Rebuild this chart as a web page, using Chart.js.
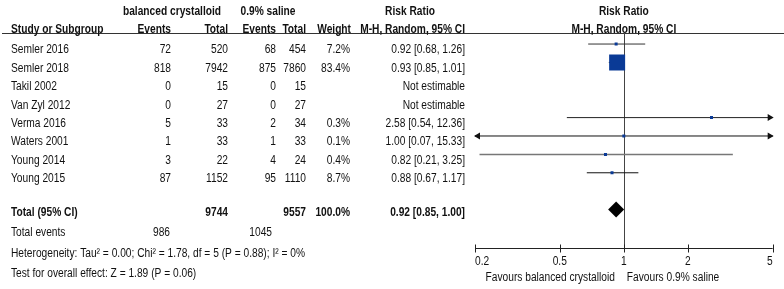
<!DOCTYPE html>
<html>
<head>
<meta charset="utf-8">
<script src="https://cdn.jsdelivr.net/npm/chart.js@4/dist/chart.umd.min.js"></script>
<style>
html, body { margin: 0; padding: 0; background: #fff; }
</style>
</head>
<body>
<canvas id="forest" width="784" height="289"></canvas>
<script>
// study rows
const studies = ['Semler 2016', 'Semler 2018', 'Takil 2002', 'Van Zyl 2012', 'Verma 2016', 'Waters 2001', 'Young 2014', 'Young 2015'];
const eventsBal = [72, 818, 0, 0, 5, 1, 3, 87];
const totalBal = [520, 7942, 15, 27, 33, 33, 22, 1152];
const eventsSal = [68, 875, 0, 0, 2, 1, 4, 95];
const totalSal = [454, 7860, 15, 27, 34, 33, 24, 1110];
const weights = [7.2, 83.4, null, null, 0.3, 0.1, 0.4, 8.7];
const rr = [0.92, 0.93, null, null, 2.58, 1.00, 0.82, 0.88];
const ciLow = [0.68, 0.85, null, null, 0.54, 0.07, 0.21, 0.67];
const ciHigh = [1.26, 1.01, null, null, 12.36, 15.33, 3.25, 1.17];

// pooled result
const pooledRR = 0.92;
const pooledLow = 0.85;
const pooledHigh = 1.00;
const sumBal = 9744;
const sumSal = 9557;
const totalEventsBal = 986;
const totalEventsSal = 1045;
const heterogeneity = 'Heterogeneity: Tau\u00b2 = 0.00; Chi\u00b2 = 1.78, df = 5 (P = 0.88); I\u00b2 = 0%';
const overallEffect = 'Test for overall effect: Z = 1.89 (P = 0.06)';

// axis
const axisTicks = [0.2, 0.5, 1, 2, 5];
const favoursLeft = 'Favours balanced crystalloid';
const favoursRight = 'Favours 0.9% saline';

const TOTAL_ROW = 9;
const FONT = '"Liberation Sans", Arial, sans-serif';
const SQUEEZE = 0.85;

function fmt(v) { return v.toFixed(2); }
function ciText(i) {
    if (rr[i] == null) return 'Not estimable';
    return fmt(rr[i]) + ' [' + fmt(ciLow[i]) + ', ' + fmt(ciHigh[i]) + ']';
}

function txt(ctx, s, x, y, align, bold) {
    ctx.save();
    ctx.font = (bold ? 'bold ' : '') + '12px ' + FONT;
    ctx.fillStyle = '#111';
    ctx.textAlign = align;
    ctx.textBaseline = 'middle';
    ctx.translate(x, y);
    ctx.scale(SQUEEZE, 1);
    ctx.fillText(String(s), 0, 0);
    ctx.restore();
}

// CI line per estimable study
const ciColor = ['#333', '#333', null, null, '#222', '#111', '#777', '#111'];
const datasets = [];
studies.forEach((s, i) => {
    if (rr[i] == null) return;
    datasets.push({
        type: 'line',
        data: [{ x: ciLow[i], y: i }, { x: ciHigh[i], y: i }],
        borderColor: ciColor[i],
        borderWidth: i === 6 ? 1.5 : 1,
        pointRadius: 0,
        order: 2
    });
});

// weight squares
const squares = [];
rr.forEach((v, i) => { if (v != null) squares.push({ x: v, y: i, w: weights[i] }); });
datasets.push({
    type: 'scatter',
    data: squares,
    pointStyle: 'rect',
    pointRadius: c => {
        const side = Math.max(3, 16 * c.raw.w / 83.4);
        return side / Math.SQRT2;
    },
    backgroundColor: '#0a3a96',
    borderWidth: 0,
    order: 1
});

// pooled diamond
datasets.push({
    type: 'scatter',
    data: [{ x: pooledRR, y: TOTAL_ROW }],
    pointStyle: 'rectRot',
    pointRadius: 8,
    backgroundColor: '#000',
    borderWidth: 0,
    order: 0
});

const forestPlugin = {
    id: 'forest',
    beforeDatasetsDraw(chart) {
        const ctx = chart.ctx;
        const a = chart.chartArea;
        const xs = chart.scales.x;
        ctx.save();
        ctx.strokeStyle = '#333';
        ctx.lineWidth = 1;
        // header rule
        ctx.beginPath();
        ctx.moveTo(2, a.top + 0.5);
        ctx.lineTo(784, a.top + 0.5);
        ctx.stroke();
        // line of no effect
        const x1 = Math.round(xs.getPixelForValue(1)) + 0.5;
        ctx.strokeStyle = '#444';
        ctx.beginPath();
        ctx.moveTo(x1, a.top);
        ctx.lineTo(x1, a.bottom);
        ctx.stroke();
        ctx.restore();
    },
    afterDatasetsDraw(chart) {
        const ctx = chart.ctx;
        const a = chart.chartArea;
        const xs = chart.scales.x;
        const ys = chart.scales.y;

        // arrowheads where the CI runs off the axis
        ctx.save();
        ctx.fillStyle = '#111';
        studies.forEach((s, i) => {
            if (rr[i] == null) return;
            const y = ys.getPixelForValue(i);
            if (ciHigh[i] > xs.max) {
                ctx.beginPath();
                ctx.moveTo(a.right + 1, y);
                ctx.lineTo(a.right - 5, y - 3.5);
                ctx.lineTo(a.right - 5, y + 3.5);
                ctx.closePath();
                ctx.fill();
            }
            if (ciLow[i] < xs.min) {
                ctx.beginPath();
                ctx.moveTo(a.left - 1, y);
                ctx.lineTo(a.left + 5, y - 3.5);
                ctx.lineTo(a.left + 5, y + 3.5);
                ctx.closePath();
                ctx.fill();
            }
        });

        // x axis
        const ay = Math.round(a.bottom) + 0.5;
        ctx.strokeStyle = '#222';
        ctx.lineWidth = 1;
        ctx.beginPath();
        ctx.moveTo(a.left, ay);
        ctx.lineTo(a.right, ay);
        axisTicks.forEach(t => {
            const tx = Math.round(xs.getPixelForValue(t)) + 0.5;
            ctx.moveTo(tx, ay - 4);
            ctx.lineTo(tx, ay + 4);
        });
        ctx.stroke();
        ctx.restore();

        axisTicks.forEach((t, k) => {
            const tx = xs.getPixelForValue(t);
            let align = 'center';
            if (k === 0) align = 'left';
            if (k === axisTicks.length - 1) align = 'right';
            txt(ctx, String(t), tx, ay + 13, align, false);
        });
        const xOne = xs.getPixelForValue(1);
        txt(ctx, favoursLeft, xOne - 9, ay + 29, 'right', false);
        txt(ctx, favoursRight, xOne + 3, ay + 29, 'left', false);

        // table headers
        txt(ctx, 'balanced crystalloid', 172, 12, 'center', true);
        txt(ctx, '0.9% saline', 268, 12, 'center', true);
        txt(ctx, 'Risk Ratio', 410, 12, 'center', true);
        txt(ctx, 'Risk Ratio', xOne, 12, 'center', true);
        txt(ctx, 'Study or Subgroup', 11, 30, 'left', true);
        txt(ctx, 'Events', 171, 30, 'right', true);
        txt(ctx, 'Total', 228, 30, 'right', true);
        txt(ctx, 'Events', 276, 30, 'right', true);
        txt(ctx, 'Total', 306, 30, 'right', true);
        txt(ctx, 'Weight', 351, 30, 'right', true);
        txt(ctx, 'M-H, Random, 95% CI', 465, 30, 'right', true);
        txt(ctx, 'M-H, Random, 95% CI', xOne, 30, 'center', true);

        // study rows
        studies.forEach((s, i) => {
            const y = ys.getPixelForValue(i) + 6;
            txt(ctx, s, 11, y, 'left', false);
            txt(ctx, eventsBal[i], 171, y, 'right', false);
            txt(ctx, totalBal[i], 228, y, 'right', false);
            txt(ctx, eventsSal[i], 276, y, 'right', false);
            txt(ctx, totalSal[i], 306, y, 'right', false);
            if (weights[i] != null) txt(ctx, weights[i].toFixed(1) + '%', 350, y, 'right', false);
            txt(ctx, ciText(i), 465, y, 'right', false);
        });

        // total rows
        const ty = ys.getPixelForValue(TOTAL_ROW) + 3.5;
        txt(ctx, 'Total (95% CI)', 11, ty, 'left', true);
        txt(ctx, sumBal, 228, ty, 'right', true);
        txt(ctx, sumSal, 306, ty, 'right', true);
        txt(ctx, '100.0%', 350, ty, 'right', true);
        txt(ctx, fmt(pooledRR) + ' [' + fmt(pooledLow) + ', ' + fmt(pooledHigh) + ']', 465, ty, 'right', true);
        txt(ctx, 'Total events', 11, 233, 'left', false);
        txt(ctx, totalEventsBal, 170, 233, 'right', false);
        txt(ctx, totalEventsSal, 272, 233, 'right', false);
        txt(ctx, heterogeneity, 11, 254, 'left', false);
        txt(ctx, overallEffect, 11, 274, 'left', false);
    }
};

new Chart(document.getElementById('forest'), {
    type: 'scatter',
    data: { datasets: datasets },
    options: {
        responsive: false,
        animation: false,
        events: [],
        devicePixelRatio: 1,
        layout: { padding: { left: 475, right: 11, top: 33, bottom: 41 } },
        scales: {
            x: { type: 'logarithmic', min: 0.2, max: 5, display: false },
            y: { type: 'linear', min: -0.6, max: 11.09, reverse: true, display: false }
        },
        plugins: { legend: { display: false }, tooltip: { enabled: false } }
    },
    plugins: [forestPlugin]
});
</script>
</body>
</html>
